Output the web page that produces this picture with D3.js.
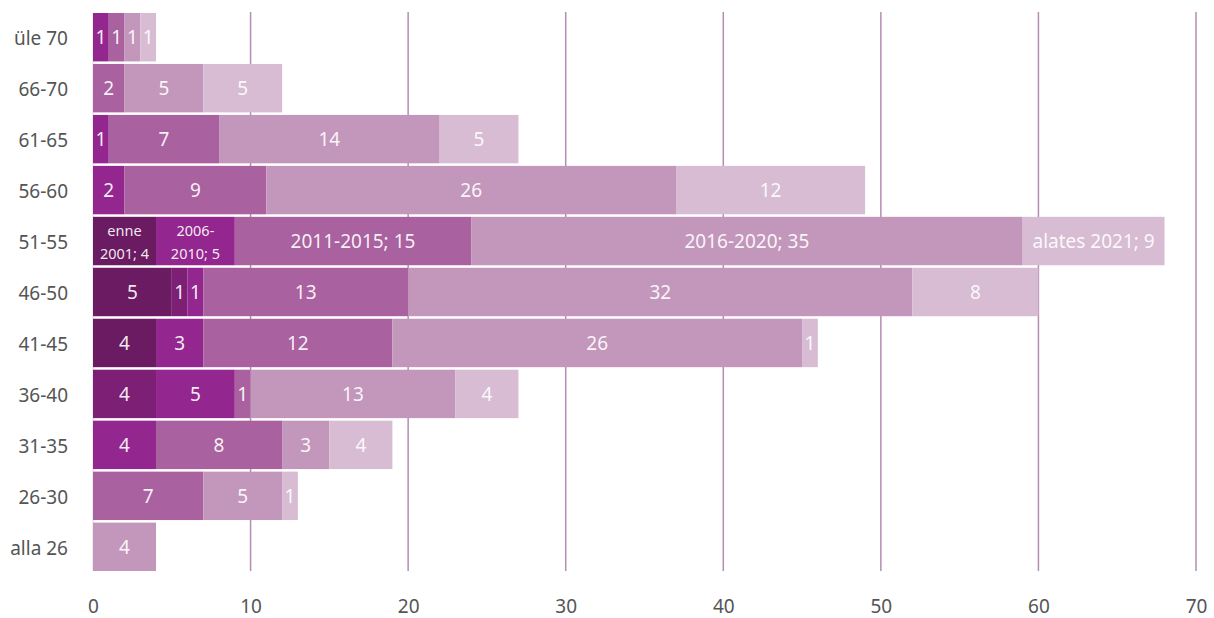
<!DOCTYPE html>
<html>
<head>
<meta charset="utf-8">
<script src="https://cdn.jsdelivr.net/npm/d3@7"></script>
<style>
  body { margin: 0; background: #fff; }
  svg text { font-family: "Noto Sans", "Open Sans", sans-serif; }
</style>
</head>
<body>
<div id="chart"></div>
<script>
const svgWidth = 1214;
const svgHeight = 618;

const margin = { top: 13, right: 18, bottom: 45, left: 93 };
const width = svgWidth - margin.left - margin.right;
const height = svgHeight - margin.top - margin.bottom;

// age groups, top to bottom
const categories = ["üle 70", "66-70", "61-65", "56-60", "51-55", "46-50", "41-45", "36-40", "31-35", "26-30", "alla 26"];
const series = ["enne 2001", "2001-2005", "2006-2010", "2011-2015", "2016-2020", "alates 2021"];
const colors = ["#6b1b62", "#7c1f75", "#93278f", "#aa619f", "#c397bb", "#d7bcd3"];

const enne2001   = [0, 0, 0, 0, 4, 5, 4, 0, 0, 0, 0];
const y2001_2005 = [0, 0, 0, 0, 0, 1, 0, 4, 0, 0, 0];
const y2006_2010 = [1, 0, 1, 2, 5, 1, 3, 5, 4, 0, 0];
const y2011_2015 = [1, 2, 7, 9, 15, 13, 12, 1, 8, 7, 0];
const y2016_2020 = [1, 5, 14, 26, 35, 32, 26, 13, 3, 5, 4];
const alates2021 = [1, 5, 5, 12, 9, 8, 1, 4, 4, 1, 0];

const xTicks = [0, 10, 20, 30, 40, 50, 60, 70];
const fullLabelRow = "51-55"; // this row shows "series; value"

const seriesValues = [enne2001, y2001_2005, y2006_2010, y2011_2015, y2016_2020, alates2021];

const table = categories.map((c, i) => {
    const row = { group: c };
    series.forEach((s, j) => row[s] = seriesValues[j][i]);
    return row;
});

const stacked = d3.stack().keys(series)(table);

const x = d3.scaleLinear().domain([0, 70]).range([0, width]);
const y = d3.scaleBand().domain(categories).range([0, height - 2]).paddingInner(0.05);

const svg = d3.select("#chart").append("svg")
    .attr("width", svgWidth)
    .attr("height", svgHeight);

const g = svg.append("g")
    .attr("transform", `translate(${margin.left}, ${margin.top})`);

// vertical gridlines behind the bars
g.append("g")
    .selectAll("line")
    .data(xTicks.filter(d => d > 0))
    .enter()
    .append("line")
    .attr("x1", d => x(d))
    .attr("x2", d => x(d))
    .attr("y1", -1)
    .attr("y2", height - 2)
    .attr("stroke", "#b48db2")
    .attr("stroke-width", 1.5);

g.append("line")
    .attr("x1", 0).attr("x2", 0)
    .attr("y1", 0).attr("y2", height - 2)
    .attr("stroke", "#dcdcdc")
    .attr("stroke-width", 1);

const layers = g.selectAll("g.layer")
    .data(stacked)
    .enter()
    .append("g")
    .attr("class", "layer")
    .attr("fill", (d, i) => colors[i]);

layers.selectAll("rect")
    .data(d => d.filter(p => p[1] - p[0] > 0))
    .enter()
    .append("rect")
    .attr("x", d => x(d[0]))
    .attr("y", d => y(d.data.group))
    .attr("width", d => x(d[1]) - x(d[0]))
    .attr("height", y.bandwidth());

// labels
stacked.forEach(layer => {
    const key = layer.key;
    layer.filter(p => p[1] - p[0] > 0).forEach(p => {
        const val = p[1] - p[0];
        const cx = (x(p[0]) + x(p[1])) / 2;
        const cy = y(p.data.group) + y.bandwidth() / 2;
        const segW = x(p[1]) - x(p[0]);
        const t = g.append("text")
            .attr("x", cx)
            .attr("y", cy)
            .attr("text-anchor", "middle")
            .attr("dominant-baseline", "central")
            .attr("fill", "#fff")
            .attr("fill-opacity", 0.92)
            .attr("font-size", 19);
        if (p.data.group !== fullLabelRow) {
            t.text(val);
            return;
        }
        const label = `${key}; ${val}`;
        t.text(label);
        if (t.node().getComputedTextLength() > segW - 6) {
            // wrap into two smaller lines
            const m = label.match(/^(.*?[ -])(.*)$/);
            const first = m[1].trim(), second = m[2].trim();
            t.text(null).attr("font-size", 14.5);
            t.append("tspan").attr("x", cx).attr("y", cy - 11).text(first);
            t.append("tspan").attr("x", cx).attr("y", cy + 12).text(second);
        }
    });
});

// y axis labels
g.append("g")
    .selectAll("text")
    .data(categories)
    .enter()
    .append("text")
    .attr("x", -25)
    .attr("y", d => y(d) + y.bandwidth() / 2 + 1)
    .attr("text-anchor", "end")
    .attr("dominant-baseline", "central")
    .attr("fill", "#555")
    .attr("font-size", 19)
    .text(d => d);

// x axis
const axisX = g.append("g")
    .attr("transform", `translate(0, ${height + 10})`)
    .call(d3.axisBottom(x).tickValues(xTicks).tickSize(0).tickPadding(17));
axisX.select(".domain").remove();
axisX.selectAll("text")
    .attr("fill", "#555")
    .attr("font-size", 19)
    .style("font-family", "'Noto Sans', sans-serif");
</script>
</body>
</html>
